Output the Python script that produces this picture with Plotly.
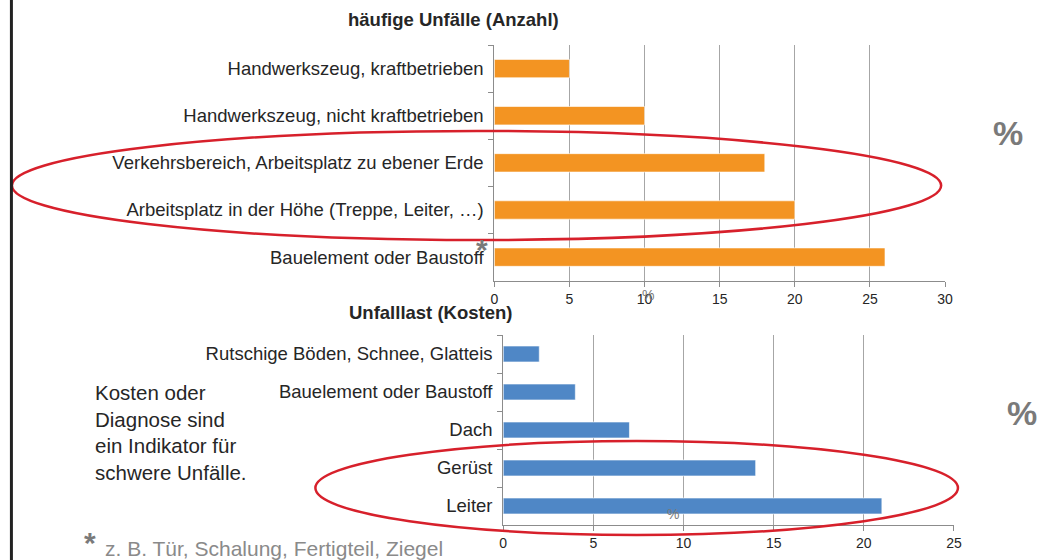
import plotly.graph_objects as go

W, H = 1048, 560

# top chart: frequent accidents (count, %)
top_title = "häufige Unfälle (Anzahl)"
top_labels = [
    "Handwerkszeug, kraftbetrieben",
    "Handwerkszeug, nicht kraftbetrieben",
    "Verkehrsbereich, Arbeitsplatz zu ebener Erde",
    "Arbeitsplatz in der Höhe (Treppe, Leiter, …)",
    "Bauelement oder Baustoff",
]
top_values = [5, 10, 18, 20, 26]
top_ticks = [0, 5, 10, 15, 20, 25, 30]

# bottom chart: accident burden (costs, %)
bot_title = "Unfalllast (Kosten)"
bot_labels = [
    "Rutschige Böden, Schnee, Glatteis",
    "Bauelement oder Baustoff",
    "Dach",
    "Gerüst",
    "Leiter",
]
bot_values = [2, 4, 7, 14, 21]
bot_ticks = [0, 5, 10, 15, 20, 25]

note_text = "Kosten oder<br>Diagnose sind<br>ein Indikator für<br>schwere Unfälle."
footnote = "z. B. Tür, Schalung, Fertigteil, Ziegel"

_ORANGE = "#f39422"
_BLUE = "#4f87c6"
_GRID = "#a6a6a6"
_AXIS = "#8c8c8c"
_TEXT = "#262626"
_PCT = "#7a7a7a"
_RED = "#d7202b"
_FONT = "Liberation Sans, Arial, sans-serif"


def px(x):
    return x / W


def py(y):
    return 1 - y / H


fig = go.Figure()
fig.add_trace(go.Bar(
    x=top_values, y=top_labels, orientation="h", width=0.39,
    marker=dict(color=_ORANGE, line=dict(color="rgba(255,255,255,0.6)", width=1)),
    xaxis="x", yaxis="y", showlegend=False,
))
fig.add_trace(go.Bar(
    x=bot_values, y=bot_labels, orientation="h", width=0.42,
    marker=dict(color=_BLUE, line=dict(color="rgba(255,255,255,0.6)", width=1)),
    xaxis="x2", yaxis="y2", showlegend=False,
))

xcommon = dict(
    showgrid=True, gridcolor=_GRID, gridwidth=1,
    showline=True, linecolor=_AXIS, linewidth=1,
    ticks="outside", ticklen=5, tickcolor=_AXIS,
    tickfont=dict(size=14, color=_TEXT), zeroline=False,
)
ycommon = dict(
    showline=True, linecolor=_AXIS, linewidth=1,
    ticks="outside", ticklen=5, tickcolor=_AXIS, tickson="boundaries",
    tickfont=dict(size=18.5, color=_TEXT), autorange="reversed",
    ticklabelstandoff=6,
)

fig.update_layout(
    width=W, height=H,
    margin=dict(l=0, r=0, t=0, b=0),
    paper_bgcolor="white", plot_bgcolor="white",
    font=dict(family=_FONT, color=_TEXT),
    xaxis=dict(domain=[px(496), px(952)], range=[0, 30], tickvals=top_ticks,
               anchor="y", **xcommon),
    yaxis=dict(domain=[py(280.7), py(45)], anchor="x", **ycommon),
    xaxis2=dict(domain=[px(505), px(961)], range=[0, 25], tickvals=bot_ticks,
                anchor="y2", **xcommon),
    yaxis2=dict(domain=[py(525), py(335)], anchor="x2", **ycommon),
)

ann = [
    dict(x=px(455), y=py(20), text=f"<b>{top_title}</b>", font=dict(size=18.5, color=_TEXT)),
    dict(x=px(431), y=py(312), text=f"<b>{bot_title}</b>", font=dict(size=18.5, color=_TEXT)),
    dict(x=px(1016), y=py(133), text="<b>%</b>", font=dict(size=34, color=_PCT)),
    dict(x=px(1030), y=py(413), text="<b>%</b>", font=dict(size=34, color=_PCT)),
    dict(x=px(651), y=py(295), text="%", font=dict(size=14, color=_PCT)),
    dict(x=px(677), y=py(514), text="%", font=dict(size=14, color=_PCT)),
    dict(x=px(484), y=py(250), text="<b>*</b>", font=dict(size=30, color=_PCT)),
    dict(x=px(87), y=py(542), text="<b>*</b>", font=dict(size=30, color=_PCT)),
    dict(x=px(100), y=py(548), text=footnote, font=dict(size=21, color="#8a8a8a"),
         xanchor="left"),
    dict(x=px(90), y=py(432), text=note_text, font=dict(size=20.5, color=_TEXT),
         xanchor="left", align="left"),
]
for a in ann:
    a.setdefault("xanchor", "center")
    fig.add_annotation(xref="paper", yref="paper", yanchor="middle",
                       showarrow=False, **a)

# red highlight ellipses and left border line
fig.add_shape(type="circle", xref="paper", yref="paper",
              x0=px(8), x1=px(948), y0=py(240), y1=py(131),
              line=dict(color=_RED, width=2.5))
fig.add_shape(type="circle", xref="paper", yref="paper",
              x0=px(315), x1=px(965), y0=py(535), y1=py(441),
              line=dict(color=_RED, width=2.5))
fig.add_shape(type="line", xref="paper", yref="paper",
              x0=px(7.5), x1=px(7.5), y0=0, y1=1,
              line=dict(color="#222222", width=3))

# no page margin / scrollbars so the 1048x560 figure fills the window exactly
fig.write_html(
    "out.html",
    config={"displayModeBar": False},
    post_script=(
        "document.body.style.margin='0';"
        "document.body.style.overflow='hidden';"
        "document.documentElement.style.overflow='hidden';"
    ),
)
